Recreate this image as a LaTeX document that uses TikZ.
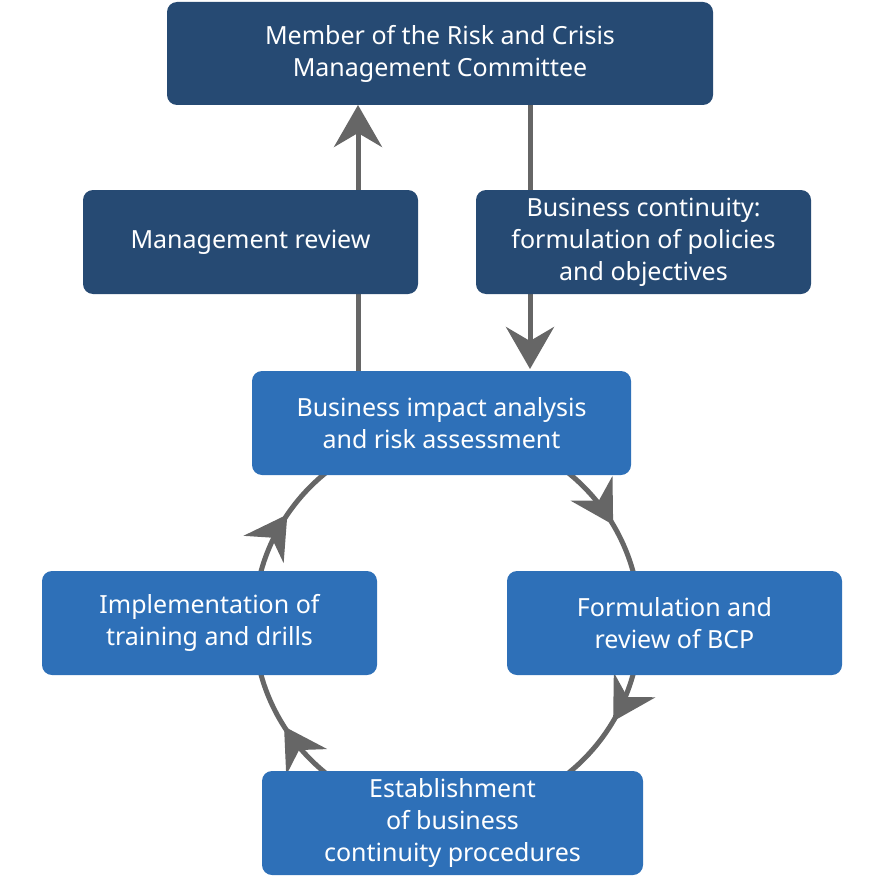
\documentclass[tikz,border=0pt]{standalone}
\usepackage{fontspec}
\setmainfont{Noto Sans}
\usetikzlibrary{arrows.meta,decorations.markings}
\definecolor{dk}{HTML}{264A73}
\definecolor{bl}{HTML}{2E70B8}
\definecolor{ln}{HTML}{666666}
\begin{document}
\begin{tikzpicture}[x=1pt,y=-1pt,
  box/.style={rounded corners=10pt,text=white,font=\bfseries\fontsize{25}{32}\selectfont,align=center,inner sep=0pt},
  con/.style={draw=ln,line width=5pt},
  tip/.style={-{Stealth[length=42pt,width=48pt,inset=14pt]}}]
\useasboundingbox (0,0) rectangle (880,880);
% circle behind
\draw[con,postaction={decorate},decoration={markings,
  mark=at position 0.085 with {\arrow[ln]{Stealth[length=42pt,width=48pt,inset=14pt]}},
  mark=at position 0.41 with {\arrow[ln]{Stealth[length=42pt,width=48pt,inset=14pt]}},
  mark=at position 0.595 with {\arrow[ln]{Stealth[length=42pt,width=48pt,inset=14pt]}},
  mark=at position 0.915 with {\arrow[ln]{Stealth[length=42pt,width=48pt,inset=14pt]}}}]
  (447,623) circle[radius=193];
\path[box,fill=dk] (167,2) rectangle (713,105);
\node[box] (top) at (440,53.5) {Member of the Risk and Crisis\\Management Committee};
\path[box,fill=bl] (252,371) rectangle (631,475);
\node[box] (bia) at (441.5,423) {Business impact analysis\\and risk assessment};
\coordinate (l1) at (358,371); \coordinate (l2) at (358,105);
\coordinate (r1) at (530,105); \coordinate (r2) at (530,369);
\draw[con,tip] (l1) -- (l2);
\draw[con,tip] (r1) -- (r2);
\path[box,fill=dk] (83,190) rectangle (418,294);
\node[box] (mr) at (250.5,242) {Management review};
\path[box,fill=dk] (476,190) rectangle (811,294);
\node[box] (bc) at (643.5,242) {Business continuity:\\formulation of policies\\and objectives};
\path[box,fill=bl] (42,571) rectangle (377,675);
\node[box] (impl) at (209.5,623) {Implementation of\\training and drills};
\path[box,fill=bl] (507,571) rectangle (842,675);
\node[box] (form) at (674.5,623) {Formulation and\\review of BCP};
\path[box,fill=bl] (262,771) rectangle (643,875);
\node[box] (est) at (452.5,823) {Establishment\\of business\\continuity procedures};
\end{tikzpicture}
\end{document}
